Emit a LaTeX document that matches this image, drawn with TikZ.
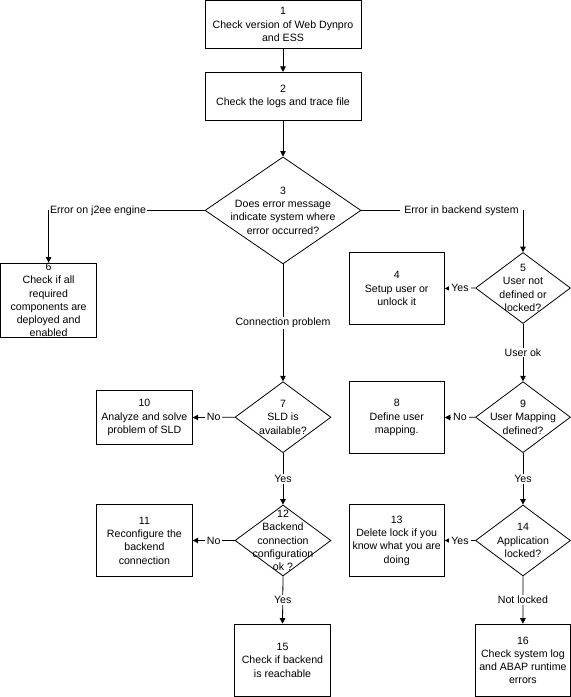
\documentclass[tikz,border=0pt]{standalone}
\usepackage{fontspec}
\setmainfont{Liberation Sans}
\usetikzlibrary{shapes.geometric,arrows.meta}
\newcommand{\lab}{\fontsize{10.6}{13.3}\selectfont}
\tikzset{
  box/.style={draw, rectangle, inner sep=0pt, align=center, font=\lab, line width=0.8pt},
  dia/.style={draw, diamond, inner sep=0pt, line width=0.8pt},
  txt/.style={align=center, inner sep=0pt, font=\lab},
  lbl/.style={fill=white, inner xsep=2pt, inner ysep=1pt, font=\lab},
  arr/.style={line width=0.8pt, -{Triangle[length=5.5pt,width=5.5pt]}},
  conn/.style={line width=0.8pt},
}
\begin{document}
\begin{tikzpicture}[x=1pt,y=-1pt]
\useasboundingbox[fill=white] (0,0) rectangle (571,697);
% column B
\node[box, minimum width=156pt, minimum height=47.6pt] (b1) at (283,24.5) {1\\Check version of Web Dynpro\\and ESS};
\node[box, minimum width=156pt, minimum height=47.7pt] (b2) at (283,96.2) {2\\Check the logs and trace file};
\node[dia, minimum width=156pt, minimum height=107pt] (d3) at (283,210.4) {};
\node[txt] (t3) at (d3) {3\\Does error message\\indicate system where\\error occurred?};
\node[dia, minimum width=96pt, minimum height=71pt] (d7) at (283,417.2) {};
\node[txt] (t7) at (d7) {7\\SLD is\\available?};
\node[dia, minimum width=96pt, minimum height=71pt] (d12) at (283,540.5) {};
\node[txt] (t12) at (d12) {12\\Backend\\connection\\configuration\\ok ?};
\node[box, minimum width=96.6pt, minimum height=72.4pt] (b15) at (282.5,660.3) {15\\Check if backend\\is reachable};
% left
\node[box, minimum width=95.8pt, minimum height=72pt] (b6) at (48.6,300) {6\\Check if all\\required\\components are\\deployed and\\enabled};
\node[box, minimum width=95.8pt, minimum height=53.6pt] (b10) at (144.4,417.5) {10\\Analyze and solve\\problem of SLD};
\node[box, minimum width=95.8pt, minimum height=72.4pt] (b11) at (144.4,540.5) {11\\Reconfigure the\\backend\\connection};
% column C
\node[box, minimum width=95.4pt, minimum height=71.6pt] (b4) at (396.7,288.5) {4\\Setup user or\\unlock it};
\node[box, minimum width=95.4pt, minimum height=71.6pt] (b8) at (396.7,417.5) {8\\Define user\\mapping.};
\node[box, minimum width=95.4pt, minimum height=72.4pt] (b13) at (396.7,540.5) {13\\Delete lock if you\\know what you are\\doing};
% column D
\node[dia, minimum width=95pt, minimum height=71pt] (d5) at (523,288) {};
\node[txt] (t5) at (d5) {5\\User not\\defined or\\locked?};
\node[dia, minimum width=95pt, minimum height=71pt] (d9) at (523,417.2) {};
\node[txt] (t9) at (d9) {9\\User Mapping\\defined?};
\node[dia, minimum width=95pt, minimum height=71pt] (d14) at (523,540.5) {};
\node[txt] (t14) at (d14) {14\\Application\\locked?};
\node[box, minimum width=95.8pt, minimum height=72.4pt] (b16) at (522.9,660.3) {16\\Check system log\\and ABAP runtime\\errors};
% connectors
\draw[arr] (b1) -- (b2);
\draw[arr] (b2) -- (d3);
\draw[arr] (d3.west) -| node[lbl, pos=0.5, anchor=west, inner xsep=1pt] (l36) {Error on j2ee engine} (b6.north);
\draw[arr] (d3.east) -| node[lbl, pos=0.5, anchor=east, inner xsep=4pt] (l35) {Error in backend system} (d5.north);
\draw[arr] (d3.south) -- node[lbl] (l37) {Connection problem} (d7.north);
\draw[arr] (d5.west) -- node[lbl] (l54) {Yes} (b4.east);
\draw[arr] (d5.south) -- node[lbl] (l59) {User ok} (d9.north);
\draw[arr] (d7.west) -- node[lbl] (l710) {No} (b10.east);
\draw[arr] (d7.south) -- node[lbl] (l712) {Yes} (d12.north);
\draw[arr] (d9.west) -- node[lbl] (l98) {No} (b8.east);
\draw[arr] (d9.south) -- node[lbl] (l914) {Yes} (d14.north);
\draw[arr] (d12.west) -- node[lbl] (l1211) {No} (b11.east);
\draw[arr] (d12.south) -- node[lbl] (l1215) {Yes} (b15.north);
\draw[arr] (d14.west) -- node[lbl] (l1413) {Yes} (b13.east);
\draw[arr] (d14.south) -- node[lbl] (l1416) {Not locked} (b16.north);
\end{tikzpicture}
\end{document}
